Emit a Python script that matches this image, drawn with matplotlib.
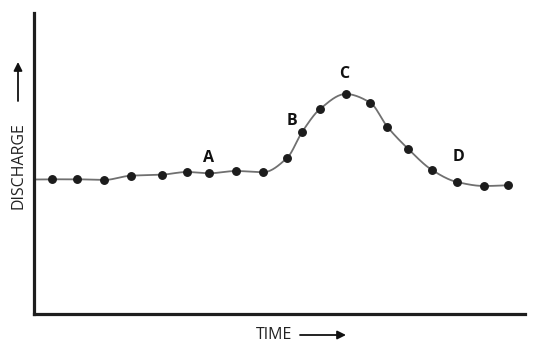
import numpy as np
import matplotlib
matplotlib.use("Agg")
import matplotlib.pyplot as plt
from matplotlib.patches import FancyArrowPatch

# ---- data (arbitrary units) ----
time = [17.7, 42.7, 70, 96.7, 127.7, 153, 174.7, 202.3, 229, 253.3,
        268.3, 286, 311.7, 336.3, 353.3, 374.3, 398, 423, 450.3, 473.7]
discharge = [134.7, 134.7, 134.0, 138.3, 139.3, 142.0, 140.7, 143.0, 141.7, 156.3,
             182.3, 205.0, 220.0, 211.3, 187.3, 165.0, 144.0, 132.0, 128.0, 128.7]
curve_start_time = 0
curve_start_discharge = 134.5
label_names = ["A", "B", "C", "D"]
label_time = [175, 258, 310, 425]
label_discharge = [156, 193, 240, 157]

FONT = ["Open Sans", "DejaVu Sans"]


def pchip(xs, ys, n=30):
    x = np.asarray(xs, float)
    y = np.asarray(ys, float)
    h = np.diff(x)
    d = np.diff(y) / h
    m = np.zeros_like(y)
    for k in range(1, len(x) - 1):
        if d[k - 1] * d[k] > 0:
            w1 = 2 * h[k] + h[k - 1]
            w2 = h[k] + 2 * h[k - 1]
            m[k] = (w1 + w2) / (w1 / d[k - 1] + w2 / d[k])
    m[0] = d[0]
    m[-1] = d[-1]
    ox, oy = [], []
    for k in range(len(x) - 1):
        t = np.linspace(0, 1, n, endpoint=False)
        h00 = 2 * t ** 3 - 3 * t ** 2 + 1
        h10 = t ** 3 - 2 * t ** 2 + t
        h01 = -2 * t ** 3 + 3 * t ** 2
        h11 = t ** 3 - t ** 2
        ox.extend(x[k] + t * h[k])
        oy.extend(h00 * y[k] + h10 * h[k] * m[k] + h01 * y[k + 1] + h11 * h[k] * m[k + 1])
    ox.append(x[-1])
    oy.append(y[-1])
    return np.array(ox), np.array(oy)


fig = plt.figure(figsize=(5.36, 3.57), dpi=100)
ax = fig.add_axes([34 / 536, 1 - 314 / 357, (525 - 34) / 536, (314 - 13) / 357])
ax.set_xlim(0, 491)
ax.set_ylim(0, 301)

cx, cy = pchip([curve_start_time] + time, [curve_start_discharge] + discharge)
ax.plot(cx, cy, color="#707070", lw=1.3, zorder=2, solid_capstyle="round")
ax.plot(time, discharge, "o", color="#1c1c1c", ms=5.4, zorder=3)

for name, t, d in zip(label_names, label_time, label_discharge):
    ax.text(t, d, name, ha="center", va="center", fontsize=11.5, fontweight="bold",
            family=FONT, color="#111111")

for s in ["top", "right"]:
    ax.spines[s].set_visible(False)
for s in ["left", "bottom"]:
    ax.spines[s].set_linewidth(2.3)
    ax.spines[s].set_color("#1e1e1e")
ax.set_xticks([])
ax.set_yticks([])

# axis titles with arrows
fig.text(18 / 536, 1 - 166 / 357, "DISCHARGE", rotation=90, ha="center", va="center",
         fontsize=11.5, family=FONT, color="#222222")
fig.text(274 / 536, 1 - 335 / 357, "TIME", ha="center", va="center",
         fontsize=11.5, family=FONT, color="#222222")
fig.add_artist(FancyArrowPatch(
    (18 / 536, 1 - 101 / 357), (18 / 536, 1 - 62 / 357), transform=fig.transFigure,
    arrowstyle="-|>,head_length=5,head_width=2.5", color="#111111", lw=1.3,
    mutation_scale=1, shrinkA=0, shrinkB=0))
fig.add_artist(FancyArrowPatch(
    (300 / 536, 1 - 335 / 357), (346 / 536, 1 - 335 / 357), transform=fig.transFigure,
    arrowstyle="-|>,head_length=5,head_width=2.5", color="#111111", lw=1.3,
    mutation_scale=1, shrinkA=0, shrinkB=0))

fig.savefig("out.png", dpi=100)
